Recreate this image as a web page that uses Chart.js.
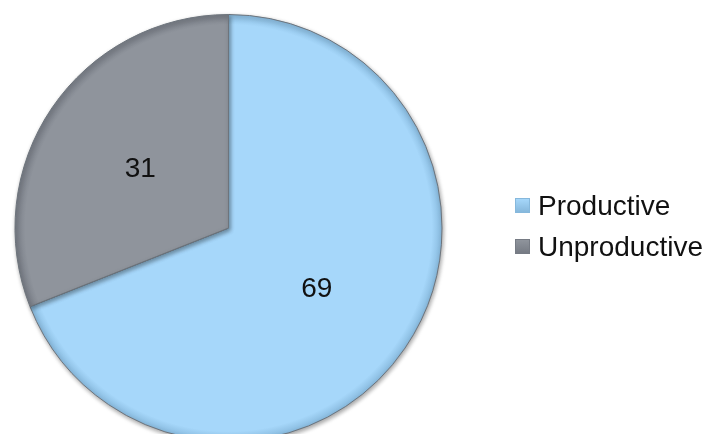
<!DOCTYPE html>
<html>
<head>
<meta charset="utf-8">
<script src="https://cdn.jsdelivr.net/npm/chart.js@4/dist/chart.umd.min.js"></script>
<style>
  html, body { margin: 0; padding: 0; background: #fff; overflow: hidden; }
  #wrap { position: relative; width: 725px; height: 434px; overflow: hidden; }
  #chart { position: absolute; left: 0; top: 0; }
  #legend { position: absolute; left: 515px; top: 185px; margin: 0; padding: 0; list-style: none;
            font-family: "Liberation Sans", Arial, sans-serif; font-size: 28px; color: #111; }
  #legend li { position: relative; height: 41px; line-height: 41px; padding-left: 23px; white-space: nowrap; }
  #legend .box { position: absolute; left: 0; top: 13px; width: 13px; height: 13px; border: 1px solid; }
</style>
</head>
<body>
<div id="wrap">
  <canvas id="chart" width="725" height="442"></canvas>
  <ul id="legend"></ul>
</div>
<script>
const categories = ['Productive', 'Unproductive'];
const values = [69, 31];

// colores: relleno, borde exterior
const fills = ['#a6d7fa', '#8f949c'];
const edges = ['#86b8dc', '#767b84'];

function sliceGradient(c) {
  const chart = c.chart;
  const area = chart.chartArea;
  if (!area) return fills[c.dataIndex];
  const cx = (area.left + area.right) / 2;
  const cy = (area.top + area.bottom) / 2;
  const r = Math.min(area.right - area.left, area.bottom - area.top) / 2;
  const g = chart.ctx.createRadialGradient(cx, cy, 0, cx, cy, r);
  g.addColorStop(0, fills[c.dataIndex]);
  g.addColorStop(0.95, fills[c.dataIndex]);
  g.addColorStop(1, edges[c.dataIndex]);
  return g;
}

// sombra suave y numeros dentro de cada porcion
const pieExtras = {
  id: 'pieExtras',
  beforeDatasetsDraw(chart) {
    const ctx = chart.ctx;
    ctx.save();
    ctx.shadowColor = 'rgba(0,0,0,0.35)';
    ctx.shadowBlur = 4;
    ctx.shadowOffsetX = 1;
    ctx.shadowOffsetY = 2;
  },
  afterDatasetsDraw(chart) {
    const ctx = chart.ctx;
    ctx.restore();
    ctx.save();
    ctx.font = '28px "Liberation Sans", Arial, sans-serif';
    ctx.fillStyle = '#111';
    ctx.textAlign = 'center';
    ctx.textBaseline = 'middle';
    chart.getDatasetMeta(0).data.forEach((arc, i) => {
      const p = arc.tooltipPosition();
      ctx.fillText(String(values[i]), p.x, p.y + 1);
    });
    ctx.restore();
  }
};

const chart = new Chart(document.getElementById('chart'), {
  type: 'pie',
  data: {
    labels: categories,
    datasets: [{
      data: values,
      backgroundColor: sliceGradient,
      borderColor: '#6d747c',
      borderWidth: 1,
      hoverOffset: 0,
      offset: 0
    }]
  },
  options: {
    responsive: false,
    animation: false,
    devicePixelRatio: 1,
    layout: { padding: { left: 14.5, top: 14, right: 282.5, bottom: 0 } },
    plugins: {
      legend: { display: false },
      tooltip: { enabled: false }
    }
  },
  plugins: [pieExtras]
});

// leyenda en HTML
const legendEl = document.getElementById('legend');
categories.forEach((name, i) => {
  const li = document.createElement('li');
  li.innerHTML = `<span class="box" style="background:linear-gradient(${fills[i]}, ${edges[i]});border-color:${edges[i]}"></span>${name}`;
  legendEl.appendChild(li);
});
</script>
</body>
</html>
